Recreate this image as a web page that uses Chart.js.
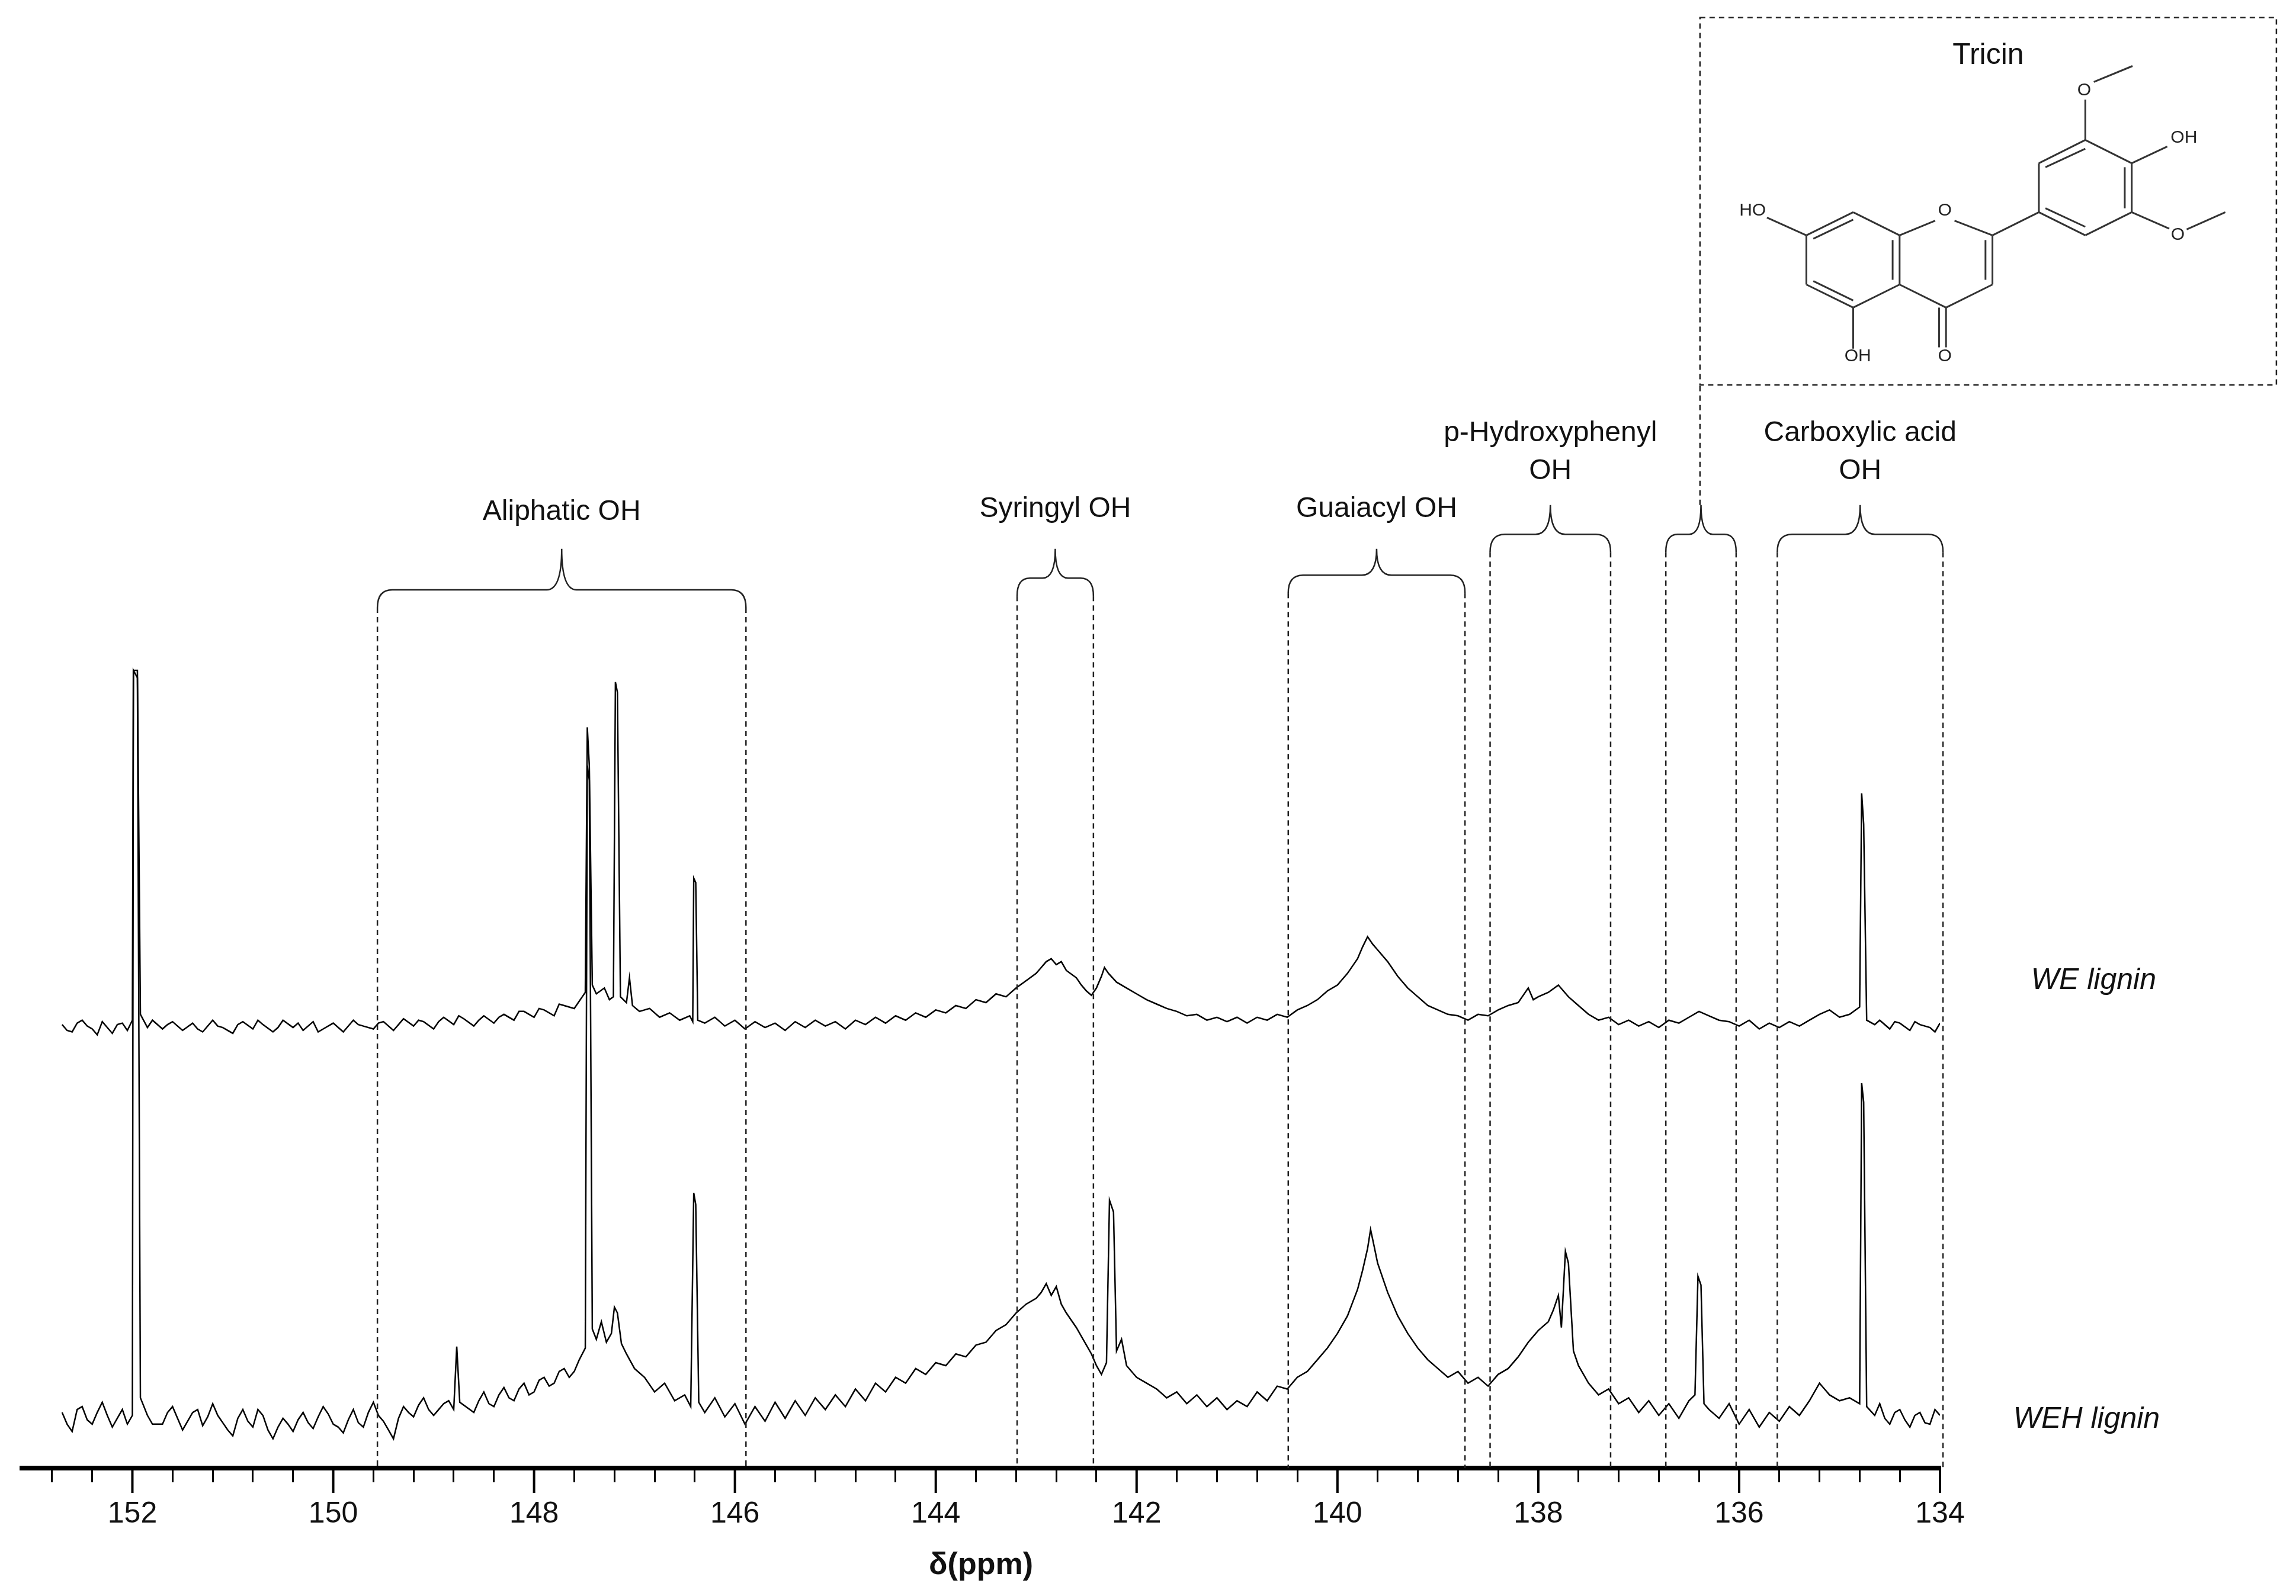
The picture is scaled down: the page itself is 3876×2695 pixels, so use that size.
<!DOCTYPE html>
<html><head><meta charset="utf-8">
<script src="https://cdn.jsdelivr.net/npm/chart.js@4/dist/chart.umd.min.js"></script>
<style>html,body{margin:0;padding:0;background:#fff}#wrap{width:3876px;height:2695px}</style>
</head><body><div id="wrap"><canvas id="c" width="3876" height="2695"></canvas></div>
<script>
// ppm tick labels (major) every 2 ppm, minor every 0.4
const majorTicks = [152,150,148,146,144,142,140,138,136,134];
const seriesNames = ['WE lignin','WEH lignin'];
// WE lignin trace [ppm, intensity]
const weData = [[152.7,303],[152.65,299],[152.6,298],[152.55,304],[152.5,306],[152.45,302],[152.4,300],[152.35,296],[152.3,305],[152.25,301],[152.2,297],[152.15,303],[152.1,304],[152.05,299],[152.0,306],[151.99,545],[151.95,545],[151.92,310],[151.85,301],[151.8,306],[151.7,300],[151.65,303],[151.6,305],[151.55,302],[151.5,299],[151.4,304],[151.35,300],[151.3,298],[151.2,306],[151.15,302],[151.1,301],[151.0,297],[150.95,303],[150.9,305],[150.8,300],[150.75,306],[150.7,303],[150.6,298],[150.55,301],[150.5,306],[150.4,301],[150.35,304],[150.3,299],[150.2,305],[150.15,298],[150.1,300],[150.0,304],[149.95,301],[149.9,298],[149.8,306],[149.75,303],[149.7,302],[149.6,300],[149.55,304],[149.5,305],[149.4,299],[149.35,303],[149.3,307],[149.2,302],[149.15,306],[149.1,305],[149.0,300],[148.95,305],[148.9,308],[148.8,303],[148.75,309],[148.7,307],[148.6,302],[148.55,306],[148.5,309],[148.4,304],[148.35,308],[148.3,310],[148.2,306],[148.15,312],[148.1,312],[148.0,308],[147.95,314],[147.9,313],[147.8,309],[147.75,317],[147.7,316],[147.6,314],[147.55,319],[147.52,322],[147.49,325],[147.47,506],[147.45,480],[147.42,330],[147.38,324],[147.3,328],[147.25,320],[147.21,322],[147.19,537],[147.17,530],[147.14,322],[147.08,318],[147.05,335],[147.02,316],[146.95,312],[146.85,314],[146.75,308],[146.65,311],[146.55,306],[146.45,309],[146.42,305],[146.41,403],[146.39,400],[146.37,306],[146.3,304],[146.2,308],[146.1,302],[146.0,306],[145.9,300],[145.8,305],[145.7,301],[145.6,304],[145.5,299],[145.4,305],[145.3,301],[145.2,306],[145.1,302],[145.0,305],[144.9,300],[144.8,306],[144.7,303],[144.6,308],[144.5,304],[144.4,309],[144.3,306],[144.2,311],[144.1,308],[144.0,313],[143.9,311],[143.8,316],[143.7,314],[143.6,320],[143.5,318],[143.4,324],[143.3,322],[143.2,328],[143.1,333],[143.0,338],[142.95,342],[142.9,346],[142.85,348],[142.8,344],[142.75,346],[142.7,340],[142.6,335],[142.55,330],[142.5,326],[142.45,323],[142.4,328],[142.35,336],[142.32,342],[142.28,338],[142.2,332],[142.1,328],[142.0,324],[141.9,320],[141.8,317],[141.7,314],[141.6,312],[141.5,309],[141.4,310],[141.3,306],[141.2,308],[141.1,305],[141.0,308],[140.9,304],[140.8,308],[140.7,306],[140.6,310],[140.5,308],[140.4,313],[140.3,316],[140.2,320],[140.1,326],[140.0,330],[139.9,338],[139.8,348],[139.75,356],[139.7,363],[139.65,358],[139.6,354],[139.5,346],[139.4,336],[139.3,328],[139.2,322],[139.1,316],[139.0,313],[138.9,310],[138.8,309],[138.7,306],[138.6,310],[138.5,309],[138.4,313],[138.3,316],[138.2,318],[138.1,328],[138.05,320],[138.0,322],[137.9,325],[137.8,330],[137.75,326],[137.7,322],[137.6,316],[137.5,310],[137.4,306],[137.3,308],[137.2,303],[137.1,306],[137.0,302],[136.9,305],[136.8,301],[136.7,306],[136.6,304],[136.5,308],[136.4,312],[136.3,309],[136.2,306],[136.1,305],[136.0,302],[135.9,306],[135.8,300],[135.7,304],[135.6,301],[135.5,305],[135.4,302],[135.3,306],[135.2,310],[135.1,313],[135.0,308],[134.9,310],[134.8,315],[134.78,461],[134.76,440],[134.73,306],[134.65,303],[134.6,306],[134.5,300],[134.45,305],[134.4,304],[134.3,299],[134.25,305],[134.2,303],[134.1,301],[134.05,298],[134.0,304]];
// WEH lignin trace [ppm, intensity]
const wehData = [[152.7,38],[152.65,30],[152.6,25],[152.55,40],[152.5,42],[152.45,33],[152.4,30],[152.35,38],[152.3,45],[152.25,36],[152.2,28],[152.15,34],[152.1,40],[152.05,30],[152.0,36],[151.99,545],[151.95,540],[151.92,48],[151.85,36],[151.8,30],[151.7,30],[151.65,38],[151.6,42],[151.55,34],[151.5,26],[151.45,32],[151.4,38],[151.35,40],[151.3,29],[151.25,35],[151.2,44],[151.15,36],[151.1,31],[151.05,26],[151.0,22],[150.95,34],[150.9,40],[150.85,32],[150.8,28],[150.75,40],[150.7,36],[150.65,26],[150.6,20],[150.55,28],[150.5,34],[150.45,30],[150.4,25],[150.35,33],[150.3,38],[150.25,31],[150.2,27],[150.15,35],[150.1,42],[150.05,37],[150.0,30],[149.95,28],[149.9,24],[149.85,33],[149.8,40],[149.75,31],[149.7,28],[149.65,38],[149.6,45],[149.55,36],[149.5,32],[149.45,26],[149.4,20],[149.35,34],[149.3,42],[149.25,38],[149.2,35],[149.15,43],[149.1,48],[149.05,40],[149.0,36],[148.95,40],[148.9,44],[148.85,46],[148.8,40],[148.77,83],[148.74,45],[148.6,38],[148.55,46],[148.5,52],[148.45,44],[148.4,42],[148.35,50],[148.3,55],[148.25,48],[148.2,46],[148.15,54],[148.1,58],[148.05,50],[148.0,52],[147.95,60],[147.9,62],[147.85,56],[147.8,58],[147.75,66],[147.7,68],[147.65,62],[147.6,66],[147.55,74],[147.52,78],[147.49,82],[147.47,480],[147.45,470],[147.42,95],[147.38,88],[147.33,100],[147.28,86],[147.23,92],[147.2,110],[147.17,106],[147.13,85],[147.08,78],[147.0,68],[146.9,62],[146.8,52],[146.7,58],[146.6,46],[146.5,50],[146.44,42],[146.41,188],[146.39,180],[146.36,45],[146.3,38],[146.2,48],[146.1,35],[146.0,44],[145.9,30],[145.8,42],[145.7,32],[145.6,45],[145.5,34],[145.4,46],[145.3,36],[145.2,48],[145.1,40],[145.0,50],[144.9,42],[144.8,54],[144.7,46],[144.6,58],[144.5,52],[144.4,62],[144.3,58],[144.2,68],[144.1,64],[144.0,72],[143.9,70],[143.8,78],[143.7,76],[143.6,84],[143.5,86],[143.4,94],[143.3,98],[143.2,106],[143.1,112],[143.0,116],[142.95,120],[142.9,126],[142.85,118],[142.8,124],[142.75,112],[142.7,106],[142.6,96],[142.5,84],[142.45,78],[142.4,70],[142.35,64],[142.3,72],[142.27,183],[142.23,175],[142.2,80],[142.15,88],[142.1,70],[142.0,62],[141.9,58],[141.8,54],[141.7,48],[141.6,52],[141.5,44],[141.4,50],[141.3,42],[141.2,48],[141.1,40],[141.0,46],[140.9,42],[140.8,52],[140.7,46],[140.6,56],[140.5,54],[140.4,62],[140.3,66],[140.2,74],[140.1,82],[140.0,92],[139.9,104],[139.8,122],[139.75,135],[139.7,150],[139.67,163],[139.63,150],[139.6,140],[139.5,120],[139.4,104],[139.3,92],[139.2,82],[139.1,74],[139.0,68],[138.9,62],[138.8,66],[138.7,58],[138.6,62],[138.5,56],[138.4,64],[138.3,68],[138.2,76],[138.1,86],[138.0,94],[137.9,100],[137.85,108],[137.8,118],[137.77,96],[137.73,148],[137.7,140],[137.65,80],[137.6,70],[137.5,58],[137.4,50],[137.3,54],[137.2,44],[137.1,48],[137.0,38],[136.9,46],[136.8,36],[136.7,44],[136.6,34],[136.5,46],[136.44,50],[136.41,131],[136.38,125],[136.35,44],[136.3,40],[136.2,34],[136.1,44],[136.0,30],[135.9,40],[135.8,28],[135.7,38],[135.6,32],[135.5,42],[135.4,36],[135.3,46],[135.2,58],[135.15,54],[135.1,50],[135.0,46],[134.9,48],[134.8,44],[134.78,263],[134.76,250],[134.73,42],[134.65,36],[134.6,44],[134.55,34],[134.5,30],[134.45,38],[134.4,40],[134.35,33],[134.3,28],[134.25,36],[134.2,38],[134.15,31],[134.1,30],[134.05,40],[134.0,36]];
// region brackets: [left ppm, right ppm], label lines
const regionBounds = [[149.56,145.89],[143.19,142.43],[140.49,138.73],[138.48,137.28],[136.73,136.03],[135.62,133.97]];
const regionLabels = [['Aliphatic OH'],['Syringyl OH'],['Guaiacyl OH'],['p-Hydroxyphenyl','OH'],[],['Carboxylic acid','OH']];

const toPts = d => d.map(p => ({x:p[0], y:p[1]}));
const FONT = '"Liberation Sans", Arial, sans-serif';

const deco = {
  id:'deco',
  afterDraw(c){
    const ctx=c.ctx, X=c.scales.x, Y=c.scales.y;
    const px=v=>X.getPixelForValue(v), py=v=>Y.getPixelForValue(v);
    ctx.save();
    ctx.strokeStyle='#000'; ctx.lineWidth=4;
    majorTicks.forEach(t=>{ctx.beginPath();ctx.moveTo(px(t),py(0));ctx.lineTo(px(t),py(0)+42);ctx.stroke();});
    const levels=[[600,628,653],[608,628,655],[610,628,655],[638,658,681],[638,658,0],[638,658,681]];
    regionBounds.forEach((b,i)=>{
      const [yb,yt,yl]=levels[i];
      const X1=px(b[0]),X2=px(b[1]),Xm=(X1+X2)/2,Yb=py(yb),Yc=Yb+30,Yt=py(yt),r=Math.min(25,(X2-X1)/6);
      ctx.setLineDash([]);ctx.lineWidth=2.5;ctx.strokeStyle='#222';
      ctx.beginPath();ctx.moveTo(X1,Yc);ctx.quadraticCurveTo(X1,Yb,X1+r,Yb);ctx.lineTo(Xm-r,Yb);
      ctx.quadraticCurveTo(Xm,Yb,Xm,Yt);ctx.quadraticCurveTo(Xm,Yb,Xm+r,Yb);ctx.lineTo(X2-r,Yb);
      ctx.quadraticCurveTo(X2,Yb,X2,Yc);ctx.stroke();
      ctx.setLineDash([9,7]);ctx.lineWidth=2.5;
      [X1,X2].forEach(xx=>{ctx.beginPath();ctx.moveTo(xx,Yc);ctx.lineTo(xx,py(0));ctx.stroke();});
      ctx.setLineDash([]);
      ctx.fillStyle='#111';ctx.font='48px '+FONT;ctx.textAlign='center';ctx.textBaseline='middle';
      const L=regionLabels[i];
      if(L.length===1) ctx.fillText(L[0],Xm,py(yl));
      if(L.length===2){ctx.fillText(L[0],Xm,py(707));ctx.fillText(L[1],Xm,py(681));}
    });
    const bx1=px(136.39),bx2=px(130.65),by1=py(991),by2=py(740);
    ctx.setLineDash([9,7]);ctx.lineWidth=2.5;
    ctx.strokeRect(bx1,by1,bx2-bx1,by2-by1);
    ctx.beginPath();ctx.moveTo(bx1,py(658));ctx.lineTo(bx1,by2);ctx.stroke();
    ctx.setLineDash([]);
    ctx.font='50px '+FONT;
    ctx.fillText('Tricin',(bx1+bx2)/2,py(965));
    const mx=v=>bx1+(v-32)*(bx2-bx1)/1490, my=v=>by1+(v-75)*(by2-by1)/1387;
    const bonds=[[428,810,548,897],[548,897,548,1083],[548,1083,428,1170],[428,1170,307,1083],[307,1083,307,897],[307,897,428,810],
      [325,910,428,838],[325,1070,428,1143],[530,915,530,1065],
      [205,830,307,897],[428,1170,428,1325],
      [548,897,640,842],[690,842,788,897],[788,897,788,1083],[770,915,770,1065],[788,1083,668,1170],[668,1170,548,1083],
      [668,1170,668,1320],[650,1170,650,1320],
      [788,897,908,810],[908,810,908,625],[908,625,1028,537],[1028,537,1148,625],[1148,625,1148,810],[1148,810,1028,897],[1028,897,908,810],
      [925,640,1028,570],[1130,640,1130,795],[925,795,1028,865],
      [1028,537,1028,385],[1050,318,1150,258],[1148,625,1240,562],[1148,810,1245,872],[1290,875,1390,810]];
    ctx.strokeStyle='#333';ctx.lineWidth=3;
    bonds.forEach(b=>{ctx.beginPath();ctx.moveTo(mx(b[0]),my(b[1]));ctx.lineTo(mx(b[2]),my(b[3]));ctx.stroke();});
    ctx.font='30px '+FONT;ctx.fillStyle='#222';
    [['HO',168,805],['O',665,805],['OH',440,1355],['O',665,1355],['O',1025,350],['OH',1283,530],['O',1267,895]].forEach(t=>ctx.fillText(t[0],mx(t[1]),my(t[2])));
    ctx.font='italic 50px '+FONT;ctx.fillStyle='#111';
    ctx.fillText(seriesNames[0],px(132.47),py(333));
    ctx.fillText(seriesNames[1],px(132.54),py(33));
    ctx.restore();
  }
};

new Chart(document.getElementById('c'),{
  type:'line',
  data:{datasets:[
    {label:seriesNames[0],data:toPts(weData),borderColor:'#000',borderWidth:2.5,pointRadius:0,tension:0},
    {label:seriesNames[1],data:toPts(wehData),borderColor:'#000',borderWidth:2.5,pointRadius:0,tension:0}
  ]},
  options:{
    responsive:false,animation:false,
    layout:{padding:{left:37,right:601,top:0,bottom:0}},
    plugins:{legend:{display:false},tooltip:{enabled:false}},
    scales:{
      x:{type:'linear',reverse:true,min:134,max:153.1,
        afterBuildTicks:s=>{const t=[];for(let i=0;i<=47;i++){t.push({value:+(134+i*0.4).toFixed(1)});}s.ticks=t;},
        afterFit:s=>{s.height=216;},
        border:{display:true,color:'#000',width:8},
        grid:{drawOnChartArea:false,drawTicks:true,tickLength:24,color:'#000',lineWidth:3},
        ticks:{autoSkip:false,maxRotation:0,padding:24,color:'#111',font:{size:50,family:FONT},
          callback:v=>majorTicks.some(m=>Math.abs(m-v)<1e-6)?String(Math.round(v)):''},
        title:{display:true,text:'δ(ppm)',color:'#111',font:{size:52,weight:'bold',family:FONT},padding:{top:10,bottom:20}}
      },
      y:{display:false,min:0,max:1003}
    }
  },
  plugins:[deco]
});
</script></body></html>
